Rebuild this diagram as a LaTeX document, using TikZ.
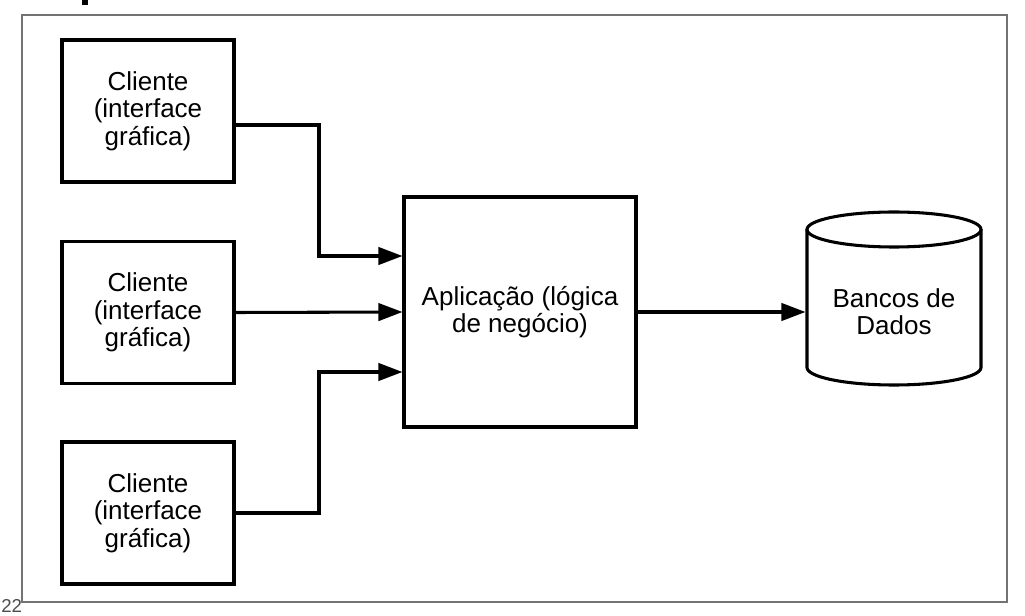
\documentclass[tikz,border=0pt]{standalone}
\usepackage{fontspec}
\setmainfont{Liberation Sans}
\usetikzlibrary{arrows.meta,calc}
\begin{document}
\begin{tikzpicture}[x=0.75pt,y=-0.75pt,
  box/.style={draw=black, line width=2.3pt, align=center, inner sep=0pt,
    font=\fontsize{19.5}{20.5}\selectfont},
  arr/.style={line width=2.3pt, -{Triangle[length=18pt,width=13pt]}},
  frame/.style={draw=black!55, line width=1.4pt}]
\useasboundingbox (0,0) rectangle (1025,616);
\fill[black] (82,0) rectangle (88,5);
\draw[frame] (22,15) rectangle (1007,602);
\node[anchor=south west, text=black!70, font=\fontsize{14}{15}\selectfont, inner sep=0pt] (pg) at (1,613) {22};
\node[box, minimum width=129pt, minimum height=106.5pt] (c1) at (148,111) {Cliente\\(interface\\gráfica)};
\node[box, minimum width=129pt, minimum height=106.5pt] (c2) at (148,312.5) {Cliente\\(interface\\gráfica)};
\node[box, minimum width=129pt, minimum height=106.5pt] (c3) at (148,513) {Cliente\\(interface\\gráfica)};
\node[box, minimum width=174pt, minimum height=172.5pt] (app) at (520,312) {Aplicação (lógica\\de negócio)};
% cylinder
\draw[line width=2.3pt] (894,229.5) ellipse [x radius=87, y radius=17.5];
\draw[line width=2.3pt] (807,229.5) -- (807,367.5)
  arc[start angle=180, end angle=0, x radius=87, y radius=17.5] -- (981,229.5);
\node[box, draw=none, minimum width=130.5pt] (db) at (894,312) {Bancos de\\Dados};
% connectors
\draw[arr] ($(c1.east)+(0,14)$) -| (319,256) -- ($(app.west)+(0,-56)$);
\draw[arr] (c2.east) -- (app.west);
\draw[arr] (c3.east) -| (319,372) -- ($(app.west)+(0,60)$);
\draw[arr] (app.east) -- (db.west);
\end{tikzpicture}
\end{document}
